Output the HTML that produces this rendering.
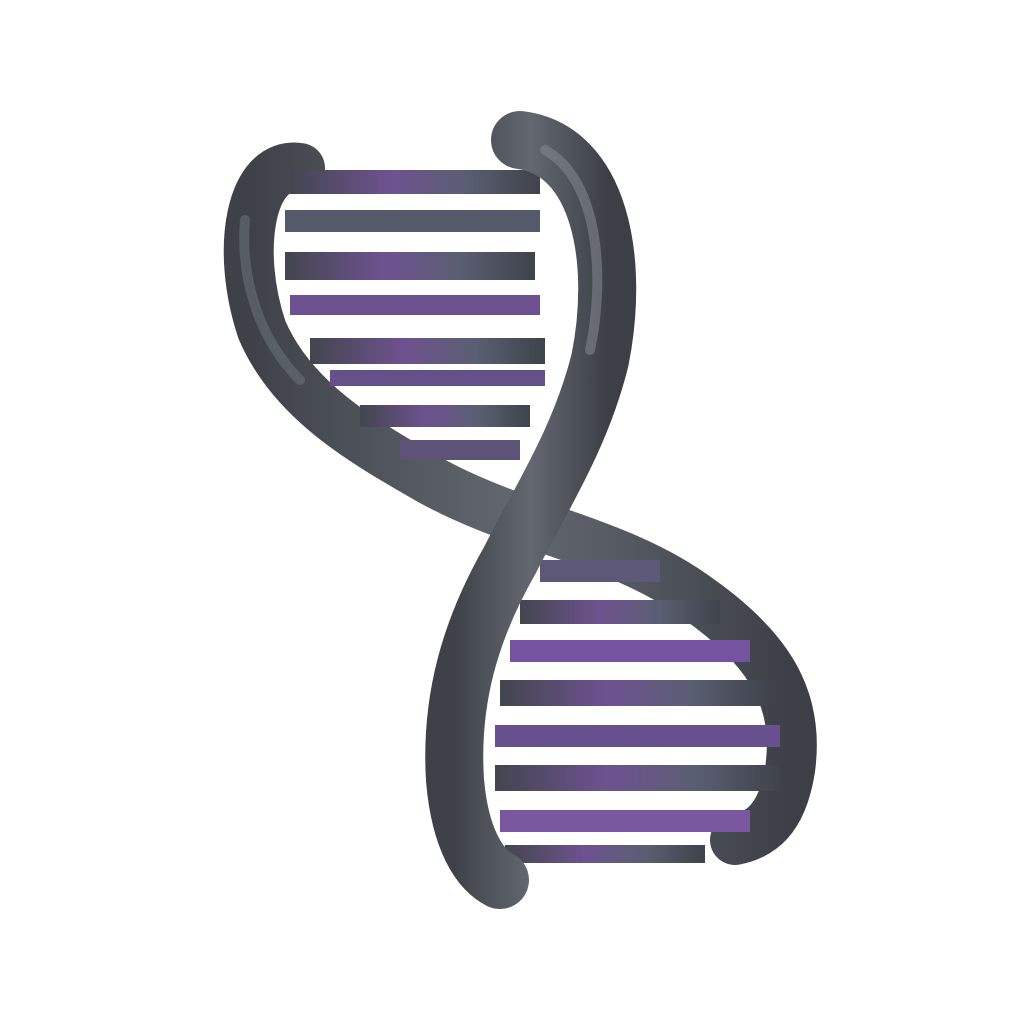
<!DOCTYPE html>
<html>
<head>
<meta charset="utf-8">
<style>
html,body{margin:0;padding:0;background:#fff;}
svg{display:block;}
</style>
</head>
<body>
<svg width="1024" height="1024" viewBox="0 0 1024 1024">
  <defs>
    <linearGradient id="rung" x1="0" y1="0" x2="1" y2="0">
      <stop offset="0" stop-color="#42464e"/>
      <stop offset="0.4" stop-color="#6e5290"/>
      <stop offset="0.7" stop-color="#5a5e72"/>
      <stop offset="1" stop-color="#3f434a"/>
    </linearGradient>
    <linearGradient id="strand" x1="0" y1="0" x2="1" y2="0">
      <stop offset="0" stop-color="#3e4248"/>
      <stop offset="0.5" stop-color="#636870"/>
      <stop offset="1" stop-color="#3c4046"/>
    </linearGradient>
  </defs>

  <!-- back strand -->
  <path
        d="M300,168 C250,160 235,250 262,330 C292,400 360,440 430,480 C520,530 620,540 700,600 C770,650 800,700 790,770 C782,820 760,835 735,840"
        fill="none" stroke="url(#strand)" stroke-width="50" stroke-linecap="round"/>

  <!-- upper rungs -->
  <g>
    <rect x="290" y="170" width="250" height="24" fill="url(#rung)"/>
    <rect x="285" y="210" width="255" height="22" fill="#55596a"/>
    <rect x="285" y="252" width="250" height="28" fill="url(#rung)"/>
    <rect x="290" y="295" width="250" height="20" fill="#6c5290"/>
    <rect x="310" y="338" width="235" height="26" fill="url(#rung)"/>
    <rect x="330" y="370" width="215" height="16" fill="#66508a"/>
    <rect x="360" y="405" width="170" height="22" fill="url(#rung)"/>
    <rect x="400" y="440" width="120" height="20" fill="#5d5278"/>
  </g>

  <!-- lower rungs -->
  <g>
    <rect x="540" y="560" width="120" height="22" fill="#5e5878"/>
    <rect x="520" y="600" width="200" height="24" fill="url(#rung)"/>
    <rect x="510" y="640" width="240" height="22" fill="#7454a0"/>
    <rect x="500" y="680" width="270" height="26" fill="url(#rung)"/>
    <rect x="495" y="725" width="285" height="22" fill="#66508e"/>
    <rect x="495" y="765" width="285" height="26" fill="url(#rung)"/>
    <rect x="500" y="810" width="250" height="22" fill="#7a58a0"/>
    <rect x="505" y="845" width="200" height="18" fill="url(#rung)"/>
  </g>

  <!-- front strand -->
  <path
        d="M520,140 C600,150 620,260 600,360 C580,440 540,500 510,560 C470,630 450,700 455,780 C460,840 480,870 500,880"
        fill="none" stroke="url(#strand)" stroke-width="58" stroke-linecap="round"/>
  <path
        d="M545,150 C600,180 605,280 590,350"
        fill="none" stroke="#80858c" stroke-width="10" stroke-linecap="round" opacity="0.6"/>
  <path
        d="M245,220 C240,280 260,340 300,380"
        fill="none" stroke="#6e7a7c" stroke-width="10" stroke-linecap="round" opacity="0.5"/>
</svg>
</body>
</html>
